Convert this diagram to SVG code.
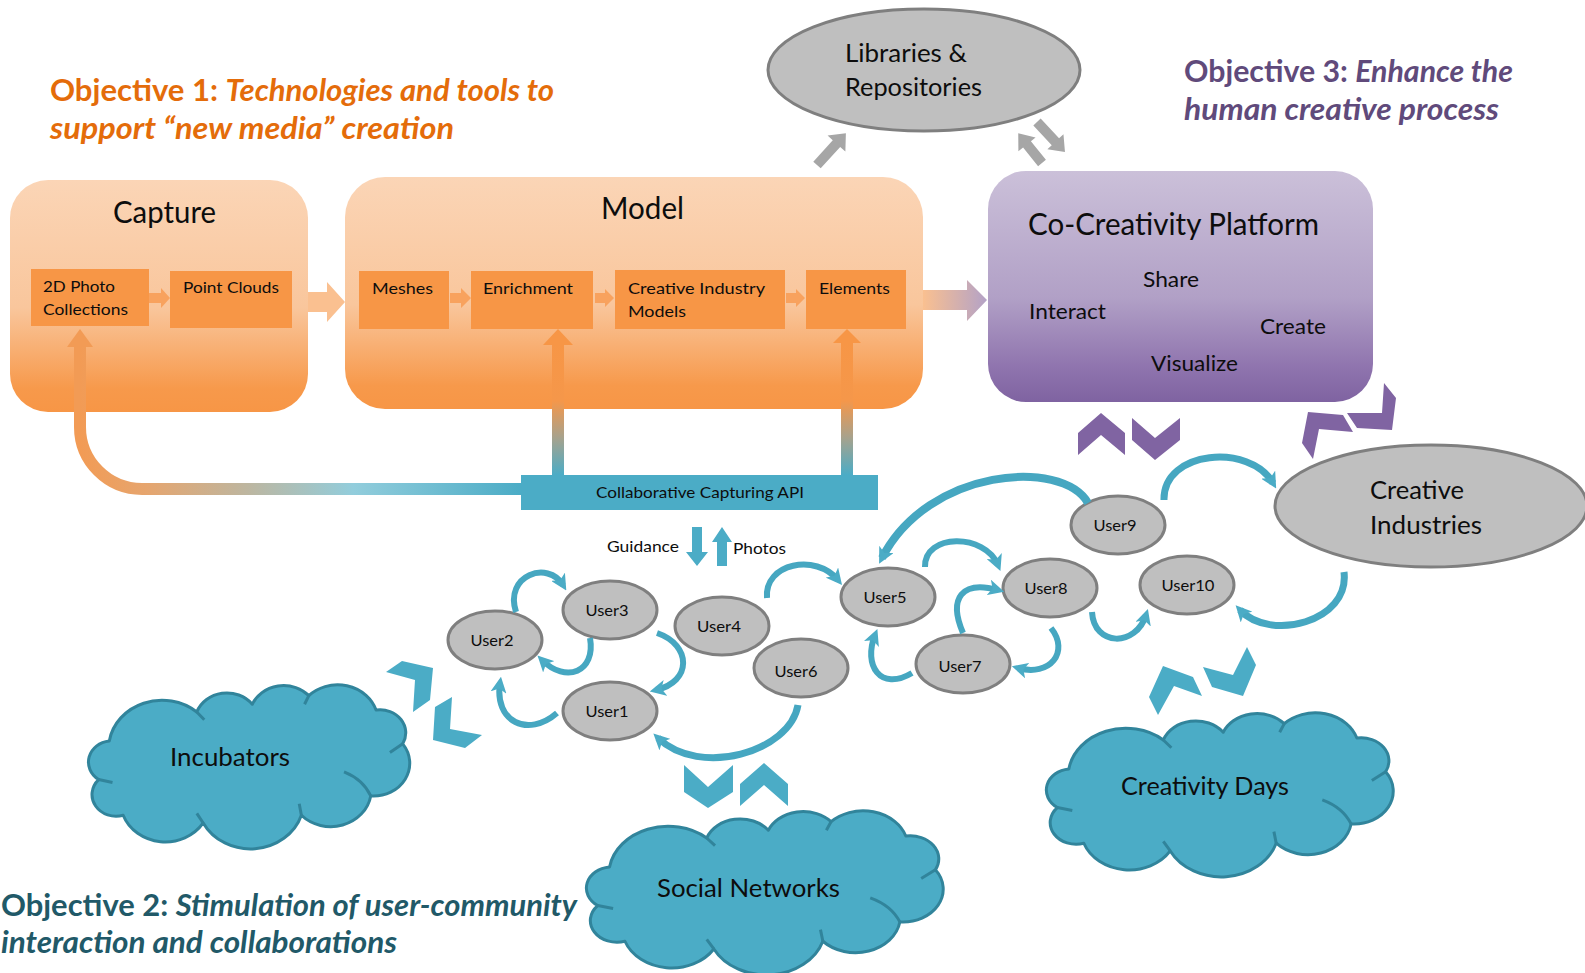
<svg xmlns="http://www.w3.org/2000/svg" xmlns:xlink="http://www.w3.org/1999/xlink" width="1585" height="973" viewBox="0 0 1585 973">
<style>
text{font-family:Lato,"Open Sans","Liberation Sans",sans-serif;fill:#0d0d0d}
.t32{font-size:31px}
.t26{font-size:25px}
.t22{font-size:21px}
.t16{font-size:16px}
.usr{fill:#BFBFBF;stroke:#7F7F7F;stroke-width:3}
.ibox{fill:#F79646}
.obj{font-size:30px;font-weight:bold}
.curve{fill:none;stroke:#46A7C1;stroke-width:6;marker-end:url(#ah)}
.teal{fill:#4BACC6}
.purp{fill:#8064A2}
.grey{fill:#A6A6A6}
.cloud{fill:#4BACC6;stroke:#31849B;stroke-width:3;stroke-linejoin:round}
.cin{fill:none;stroke:#31849B;stroke-width:3}
</style>
<defs>
<linearGradient id="gCap" x1="0" y1="0" x2="0" y2="1">
<stop offset="0" stop-color="#FBD5B6"/><stop offset="0.55" stop-color="#F9C69C"/><stop offset="0.9" stop-color="#F7994B"/><stop offset="1" stop-color="#F79646"/>
</linearGradient>
<linearGradient id="gPlat" x1="0" y1="0" x2="0" y2="1">
<stop offset="0" stop-color="#CBC0D9"/><stop offset="0.55" stop-color="#B1A0C6"/><stop offset="0.85" stop-color="#8F74AE"/><stop offset="1" stop-color="#7F63A1"/>
</linearGradient>
<linearGradient id="gToPlat" gradientUnits="userSpaceOnUse" x1="923" y1="0" x2="987" y2="0">
<stop offset="0" stop-color="#FAC090"/><stop offset="1" stop-color="#B3A2C7"/>
</linearGradient>
<linearGradient id="gVert" gradientUnits="userSpaceOnUse" x1="0" y1="340" x2="0" y2="475">
<stop offset="0" stop-color="#F79646"/><stop offset="0.45" stop-color="#F5974A"/><stop offset="0.72" stop-color="#A8A28C"/><stop offset="1" stop-color="#4BACC6"/>
</linearGradient>
<linearGradient id="gHoriz" gradientUnits="userSpaceOnUse" x1="80" y1="0" x2="521" y2="0">
<stop offset="0" stop-color="#F29B55"/><stop offset="0.15" stop-color="#E6A56E"/><stop offset="0.38" stop-color="#BDB6A0"/><stop offset="0.62" stop-color="#92CDDC"/><stop offset="1" stop-color="#4BACC6"/>
</linearGradient>
<marker id="ah" viewBox="0 0 10 10" refX="6" refY="5" markerWidth="16" markerHeight="16" markerUnits="userSpaceOnUse" orient="auto">
<path d="M0,0 L10,5 L0,10 L2.5,5 z" fill="#4BACC6"/>
</marker>
<path id="cloudShape" vector-effect="non-scaling-stroke" d="M30,56 A50,50 0 0 1 112,26 A30,30 0 0 1 164,18 A32,32 0 0 1 217,9 A38,38 0 0 1 280,24 A24,24 0 0 1 305,59 A34,34 0 0 1 275,113 A38,38 0 0 1 210,133 A50,50 0 0 1 118,141 A42,42 0 0 1 43,133 A22.5,22.5 0 0 1 20,96 A22,22 0 0 1 30,56 Z"/>
<path id="cloudInner" vector-effect="non-scaling-stroke" d="M20,96 L33,99 M112,26 L119,34 M217,9 L213,18 M305,59 L293,68 M275,113 Q268,96 250,88 M210,133 L208,121 M118,141 L112,131"/>
</defs>

<!-- Objectives -->
<g id="objective1">
<text class="obj" x="50" y="101" textLength="504" lengthAdjust="spacingAndGlyphs" style="fill:#E46C0A">Objective 1: <tspan font-style="italic" style="fill:#E46C0A">Technologies and tools to</tspan></text>
<text class="obj" x="50" y="139" textLength="404" lengthAdjust="spacingAndGlyphs" font-style="italic" style="fill:#E46C0A">support “new media” creation</text>
</g>
<g id="objective3">
<text class="obj" x="1184" y="82" textLength="329" lengthAdjust="spacingAndGlyphs" style="fill:#604A7B">Objective 3: <tspan font-style="italic" style="fill:#604A7B">Enhance the</tspan></text>
<text class="obj" x="1184" y="120" textLength="315" lengthAdjust="spacingAndGlyphs" font-style="italic" style="fill:#604A7B">human creative process</text>
</g>
<g id="objective2">
<text class="obj" x="1" y="916" textLength="576" lengthAdjust="spacingAndGlyphs" style="fill:#215968">Objective 2: <tspan font-style="italic" style="fill:#215968">Stimulation of user-community</tspan></text>
<text class="obj" x="1" y="953" textLength="396" lengthAdjust="spacingAndGlyphs" font-style="italic" style="fill:#215968">interaction and collaborations</text>
</g>

<!-- Capture -->
<g id="capture">
<rect x="10" y="180" width="298" height="232" rx="38" fill="url(#gCap)"/>
<text class="t32" x="113" y="223" textLength="103" lengthAdjust="spacingAndGlyphs">Capture</text>
</g>
<g id="photo2d">
<rect class="ibox" x="31" y="269" width="118" height="57"/>
<text class="t16" x="43" y="292" textLength="72" lengthAdjust="spacingAndGlyphs">2D Photo</text>
<text class="t16" x="43" y="315" textLength="85" lengthAdjust="spacingAndGlyphs">Collections</text>
</g>
<g id="pointclouds">
<rect class="ibox" x="170" y="271" width="122" height="57"/>
<text class="t16" x="183" y="293" textLength="96" lengthAdjust="spacingAndGlyphs">Point Clouds</text>
</g>

<!-- Model -->
<g id="model">
<rect x="345" y="177" width="578" height="232" rx="40" fill="url(#gCap)"/>
<text class="t32" x="601" y="219" textLength="83" lengthAdjust="spacingAndGlyphs">Model</text>
</g>
<g id="meshes">
<rect class="ibox" x="359" y="271" width="90" height="58"/>
<text class="t16" x="372" y="294" textLength="61" lengthAdjust="spacingAndGlyphs">Meshes</text>
</g>
<g id="enrichment">
<rect class="ibox" x="471" y="271" width="122" height="58"/>
<text class="t16" x="483" y="294" textLength="90" lengthAdjust="spacingAndGlyphs">Enrichment</text>
</g>
<g id="cimodels">
<rect class="ibox" x="615" y="270" width="170" height="59"/>
<text class="t16" x="628" y="294" textLength="137" lengthAdjust="spacingAndGlyphs">Creative  Industry</text>
<text class="t16" x="628" y="317" textLength="58" lengthAdjust="spacingAndGlyphs">Models</text>
</g>
<g id="elements">
<rect class="ibox" x="806" y="270" width="100" height="59"/>
<text class="t16" x="819" y="294" textLength="71" lengthAdjust="spacingAndGlyphs">Elements</text>
</g>

<!-- Platform -->
<g id="platform">
<rect x="988" y="171" width="385" height="231" rx="38" fill="url(#gPlat)"/>
<text class="t32" x="1028" y="235" textLength="291" lengthAdjust="spacingAndGlyphs">Co-Creativity Platform</text>
<text class="t22" x="1143" y="287" textLength="56" lengthAdjust="spacingAndGlyphs">Share</text>
<text class="t22" x="1029" y="319" textLength="77" lengthAdjust="spacingAndGlyphs">Interact</text>
<text class="t22" x="1260" y="334" textLength="66" lengthAdjust="spacingAndGlyphs">Create</text>
<text class="t22" x="1151" y="371" textLength="87" lengthAdjust="spacingAndGlyphs">Visualize</text>
</g>

<g id="libraries">
<ellipse cx="924" cy="70" rx="156" ry="61" fill="#BFBFBF" stroke="#7F7F7F" stroke-width="3"/>
<text class="t26" x="845" y="62" textLength="122" lengthAdjust="spacingAndGlyphs">Libraries &amp;</text>
<text class="t26" x="845" y="96" textLength="137" lengthAdjust="spacingAndGlyphs">Repositories</text>
</g>

<g id="creative-industries">
<ellipse cx="1431" cy="506" rx="156" ry="61" fill="#BFBFBF" stroke="#7F7F7F" stroke-width="3"/>
<text class="t26" x="1370" y="499" textLength="94" lengthAdjust="spacingAndGlyphs">Creative</text>
<text class="t26" x="1370" y="534" textLength="112" lengthAdjust="spacingAndGlyphs">Industries</text>
</g>

<g id="api">
<rect x="521" y="475" width="357" height="35" fill="#4BACC6"/>
<text class="t16" x="596" y="498" textLength="208" lengthAdjust="spacingAndGlyphs">Collaborative Capturing API</text>
</g>

<!-- Clouds -->
<g id="incubators">
<g transform="translate(77.3,686.9) scale(1.067,0.965)"><use xlink:href="#cloudShape" class="cloud"/><use xlink:href="#cloudInner" class="cin"/></g>
<text class="t26" x="170" y="766" textLength="120" lengthAdjust="spacingAndGlyphs">Incubators</text>
</g>
<g id="social-networks">
<g transform="translate(574,812.9) scale(1.185,0.965)"><use xlink:href="#cloudShape" class="cloud"/><use xlink:href="#cloudInner" class="cin"/></g>
<text class="t26" x="657" y="897" textLength="183" lengthAdjust="spacingAndGlyphs">Social Networks</text>
</g>
<g id="creativity-days">
<g transform="translate(1034.3,714.9) scale(1.152,0.965)"><use xlink:href="#cloudShape" class="cloud"/><use xlink:href="#cloudInner" class="cin"/></g>
<text class="t26" x="1121" y="795" textLength="168" lengthAdjust="spacingAndGlyphs">Creativity Days</text>
</g>

<!-- Users -->
<g id="user1"><ellipse class="usr" cx="610" cy="711" rx="47" ry="29"/><text class="t16" x="607" y="717" text-anchor="middle" textLength="43" lengthAdjust="spacingAndGlyphs">User1</text></g>
<g id="user2"><ellipse class="usr" cx="495" cy="640" rx="47" ry="29"/><text class="t16" x="492" y="646" text-anchor="middle" textLength="43" lengthAdjust="spacingAndGlyphs">User2</text></g>
<g id="user3"><ellipse class="usr" cx="610" cy="610" rx="47" ry="29"/><text class="t16" x="607" y="616" text-anchor="middle" textLength="43" lengthAdjust="spacingAndGlyphs">User3</text></g>
<g id="user4"><ellipse class="usr" cx="722" cy="626" rx="47" ry="29"/><text class="t16" x="719" y="632" text-anchor="middle" textLength="44" lengthAdjust="spacingAndGlyphs">User4</text></g>
<g id="user6"><ellipse class="usr" cx="801" cy="668" rx="47" ry="29"/><text class="t16" x="796" y="677" text-anchor="middle" textLength="43" lengthAdjust="spacingAndGlyphs">User6</text></g>
<g id="user5"><ellipse class="usr" cx="888" cy="597" rx="47" ry="29"/><text class="t16" x="885" y="603" text-anchor="middle" textLength="43" lengthAdjust="spacingAndGlyphs">User5</text></g>
<g id="user7"><ellipse class="usr" cx="963" cy="664" rx="47" ry="29"/><text class="t16" x="960" y="672" text-anchor="middle" textLength="43" lengthAdjust="spacingAndGlyphs">User7</text></g>
<g id="user8"><ellipse class="usr" cx="1050" cy="588" rx="47" ry="29"/><text class="t16" x="1046" y="594" text-anchor="middle" textLength="43" lengthAdjust="spacingAndGlyphs">User8</text></g>
<g id="user9"><ellipse class="usr" cx="1118" cy="525" rx="47" ry="29"/><text class="t16" x="1115" y="531" text-anchor="middle" textLength="43" lengthAdjust="spacingAndGlyphs">User9</text></g>
<g id="user10"><ellipse class="usr" cx="1187" cy="585" rx="47" ry="29"/><text class="t16" x="1188" y="591" text-anchor="middle" textLength="53" lengthAdjust="spacingAndGlyphs">User10</text></g>

<!-- Connectors -->
<g id="connectors">
<polygon fill="#F8A25E" points="149,293 161,293 161,288 170,298 161,308 161,303 149,303"/>
<polygon fill="#F8A25E" points="450,293 461,293 461,288 471,298 461,308 461,303 450,303"/>
<polygon fill="#F8A25E" points="595,293 605,293 605,289 614,298 605,307 605,303 595,303"/>
<polygon fill="#F8A25E" points="786,293 796,293 796,289 805,298 796,307 796,303 786,303"/>
<polygon fill="#FAC090" points="308,292 327,292 327,282 345,302 327,322 327,312 308,312"/>
<polygon fill="url(#gToPlat)" points="923,290 967,290 967,280 987,300 967,321 967,310 923,310"/>

<rect x="552" y="343" width="12" height="133" fill="url(#gVert)"/>
<polygon fill="#F79646" points="543,345 558,329 573,345"/>
<rect x="841" y="341" width="12" height="135" fill="url(#gVert)"/>
<polygon fill="#F79646" points="833,343 847,329 861,343"/>
<path d="M80,344 L80,427 A62,62 0 0 0 142,489 L522,489" fill="none" stroke="url(#gHoriz)" stroke-width="12"/>
<polygon fill="#F29B55" points="67,347 80,329 93,347"/>

<polygon class="teal" points="692,527 702,527 702,552 708,552 697,566 686,552 692,552"/>
<polygon class="teal" points="717,566 727,566 727,542 732,542 722,527 712,542 717,542"/>
<text class="t16" x="607" y="552" textLength="72" lengthAdjust="spacingAndGlyphs">Guidance</text>
<text class="t16" x="733" y="554" textLength="53" lengthAdjust="spacingAndGlyphs">Photos</text>

<path class="grey" transform="translate(817,165) rotate(-47.8)" d="M0,-5 L29,-5 L29,-12 L43,0 L29,12 L29,5 L0,5 Z"/>
<path class="grey" transform="translate(1042,163) rotate(-128.7)" d="M0,-5 L24,-5 L24,-11 L38,0 L24,11 L24,5 L0,5 Z"/>
<path class="grey" transform="translate(1037,122) rotate(47)" d="M0,-5 L27,-5 L27,-11 L41,0 L27,11 L27,5 L0,5 Z"/>

<polygon class="purp" points="1078,455 1078,433 1101,413 1125,433 1125,455 1101,435"/>
<polygon class="purp" points="1132,418 1155,438 1180,418 1180,440 1155,460 1132,440"/>
<polygon class="purp" points="1308,412 1343,415 1353,432 1319,429 1313,459 1302,443"/>
<polygon class="purp" points="1347,413 1382,413 1384,383 1396,398 1392,430 1357,428"/>

<polygon class="teal" points="386,672 402,661 433,668 430,700 413,712 415,680"/>
<polygon class="teal" points="452,697 450,729 482,735 465,748 433,740 435,707"/>
<polygon class="teal" points="684,765 708,787 733,765 733,792 708,808 684,792"/>
<polygon class="teal" points="740,806 740,784 764,763 788,784 788,806 764,785"/>
<polygon class="teal" points="1158,715 1149,697 1163,666 1193,677 1202,696 1174,686"/>
<polygon class="teal" points="1203,667 1233,675 1247,647 1256,665 1243,696 1212,687"/>

<path class="curve" d="M516,612 C504,575 548,560 563,585"/>
<path class="curve" d="M590,638 C596,672 566,684 542,660"/>
<path class="curve" d="M657,633 C692,645 692,682 656,690"/>
<path class="curve" d="M557,713 C528,738 494,722 500,683"/>
<path class="curve" style="stroke-width:7" d="M798,705 C790,752 700,778 658,738"/>
<path class="curve" d="M767,598 C764,563 816,553 838,580"/>
<path class="curve" style="stroke-width:8" d="M1088,503 C1062,458 928,468 882,558"/>
<path class="curve" d="M925,567 C924,533 985,533 998,565"/>
<path class="curve" d="M963,633 C948,598 962,580 998,590"/>
<path class="curve" d="M912,673 C880,692 863,665 875,635"/>
<path class="curve" d="M1051,628 C1070,652 1050,677 1018,668"/>
<path class="curve" d="M1092,612 C1094,647 1136,647 1146,615"/>
<path class="curve" style="stroke-width:7" d="M1164,500 C1163,450 1250,443 1273,483"/>
<path class="curve" style="stroke-width:7" d="M1344,572 C1350,622 1270,642 1240,610"/>
</g>
</svg>
